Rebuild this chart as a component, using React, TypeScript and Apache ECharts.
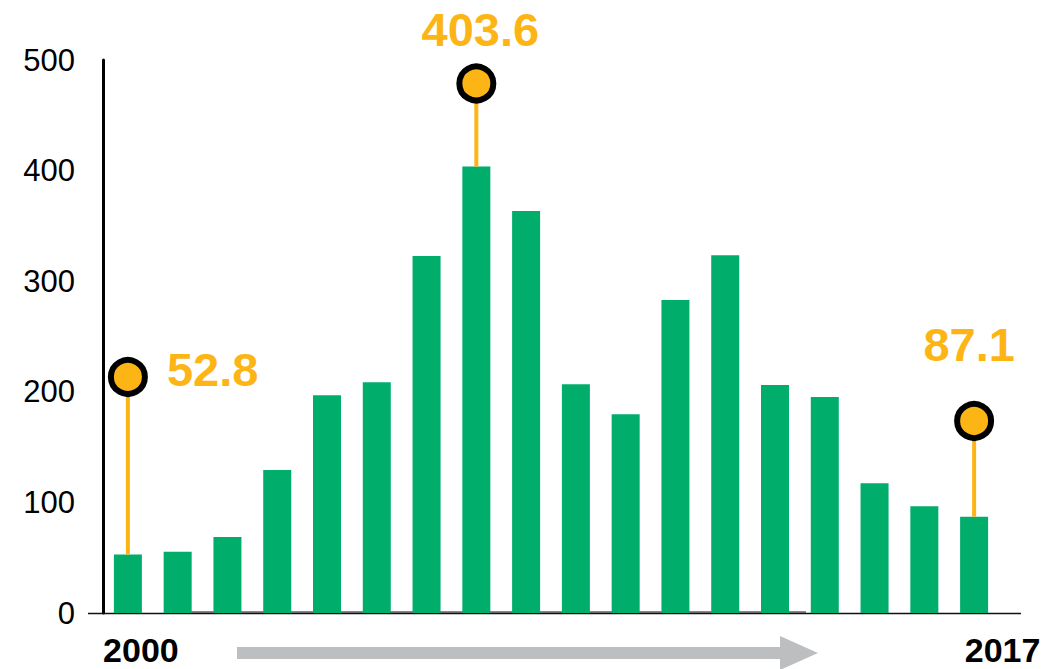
import React, { useEffect, useRef } from "react";
import * as echarts from "echarts";

const years = [
  "2000", "2001", "2002", "2003", "2004", "2005", "2006", "2007", "2008",
  "2009", "2010", "2011", "2012", "2013", "2014", "2015", "2016", "2017",
];
const values = [
  52.8, 55.4, 68.7, 129.3, 196.8, 208.6, 322.8, 403.6, 363.5,
  206.8, 179.7, 283.0, 323.4, 206.1, 195.3, 117.3, 96.5, 87.1,
];
const yTicks = [0, 100, 200, 300, 400, 500];

// annotated (lollipop) points: category index and marker height in axis units
const annIndex = [0, 7, 17];
const annMarker = [213.4, 478.8, 173.6];
const annLabels = ["52.8", "403.6", "87.1"];
// label offsets relative to marker centre (style)
const annOffsets = [
  { dx: 39, dy: -7, align: "left" },
  { dx: 4, dy: -54, align: "center" },
  { dx: -5, dy: -76, align: "center" },
];

const GREEN = "#00AD6A";
const ORANGE = "#FDB515";
const FONT = "'Liberation Sans', Arial, sans-serif";

export default function App() {
  const ref = useRef<HTMLDivElement>(null);

  useEffect(() => {
    if (!ref.current) return;
    const chart = echarts.init(ref.current, undefined, { renderer: "svg" });
    const annData = annIndex.map((idx, i) => [idx, values[idx], annMarker[i], i]);
    const lastIdx = years.length - 1;

    chart.setOption({
      animation: false,
      backgroundColor: "#ffffff",
      grid: { left: 103, right: 50, top: 60, bottom: 56, containLabel: false },
      xAxis: {
        type: "category",
        data: years,
        axisLine: { show: false },
        axisTick: { show: false },
        axisLabel: {
          interval: 0,
          margin: 21,
          formatter: (v: string, i: number) =>
            i === 0 ? `{a|${v}}` : i === lastIdx ? `{b|${v}}` : "",
          rich: {
            a: {
              fontFamily: FONT,
              fontWeight: "bold",
              fontSize: 34,
              lineHeight: 32,
              color: "#000",
              padding: [0, 0, 0, 26],
            },
            b: {
              fontFamily: FONT,
              fontWeight: "bold",
              fontSize: 34,
              lineHeight: 32,
              color: "#000",
              padding: [0, 0, 0, 57],
            },
          },
        },
      },
      yAxis: {
        type: "value",
        min: yTicks[0],
        max: yTicks[yTicks.length - 1],
        interval: 100,
        splitLine: { show: false },
        axisTick: { show: false },
        axisLine: { show: true, lineStyle: { color: "#000", width: 3 } },
        axisLabel: {
          margin: 28,
          fontFamily: FONT,
          fontSize: 31,
          color: "#000",
        },
      },
      graphic: [
        {
          type: "line",
          shape: { x1: 88, y1: 613.5, x2: 1021, y2: 613.5 },
          style: { stroke: "#111", lineWidth: 1.5 },
          z: 1,
        },
        {
          type: "line",
          shape: { x1: 171, y1: 612, x2: 806, y2: 612 },
          style: { stroke: "#111", lineWidth: 1 },
          z: 1,
        },
        {
          type: "polygon",
          shape: {
            points: [
              [237, 647],
              [780, 647],
              [780, 636],
              [818, 653],
              [780, 670],
              [780, 659],
              [237, 659],
            ],
          },
          style: { fill: "#BCBEC0" },
        },
      ],
      series: [
        {
          type: "bar",
          data: values,
          barWidth: 28,
          itemStyle: { color: GREEN },
          z: 2,
        },
        {
          type: "custom",
          data: annData,
          z: 5,
          renderItem: (params: any, api: any) => {
            const idx = api.value(0);
            const barTop = api.coord([idx, api.value(1)]);
            const mk = api.coord([idx, api.value(2)]);
            const k = api.value(3);
            const off = annOffsets[k];
            return {
              type: "group",
              children: [
                {
                  type: "line",
                  shape: { x1: mk[0], y1: mk[1], x2: barTop[0], y2: barTop[1] },
                  style: { stroke: ORANGE, lineWidth: 4 },
                },
                {
                  type: "circle",
                  shape: { cx: mk[0], cy: mk[1], r: 17 },
                  style: { fill: ORANGE, stroke: "#000", lineWidth: 6 },
                },
                {
                  type: "text",
                  x: mk[0] + off.dx,
                  y: mk[1] + off.dy,
                  style: {
                    text: annLabels[k],
                    fill: ORANGE,
                    font: `bold 47px ${FONT}`,
                    align: off.align,
                    verticalAlign: "middle",
                  },
                },
              ],
            };
          },
        },
      ],
    });

    return () => chart.dispose();
  }, []);

  return (
    <div
      ref={ref}
      style={{ position: "fixed", left: 0, top: 0, width: 1049, height: 669 }}
    />
  );
}
